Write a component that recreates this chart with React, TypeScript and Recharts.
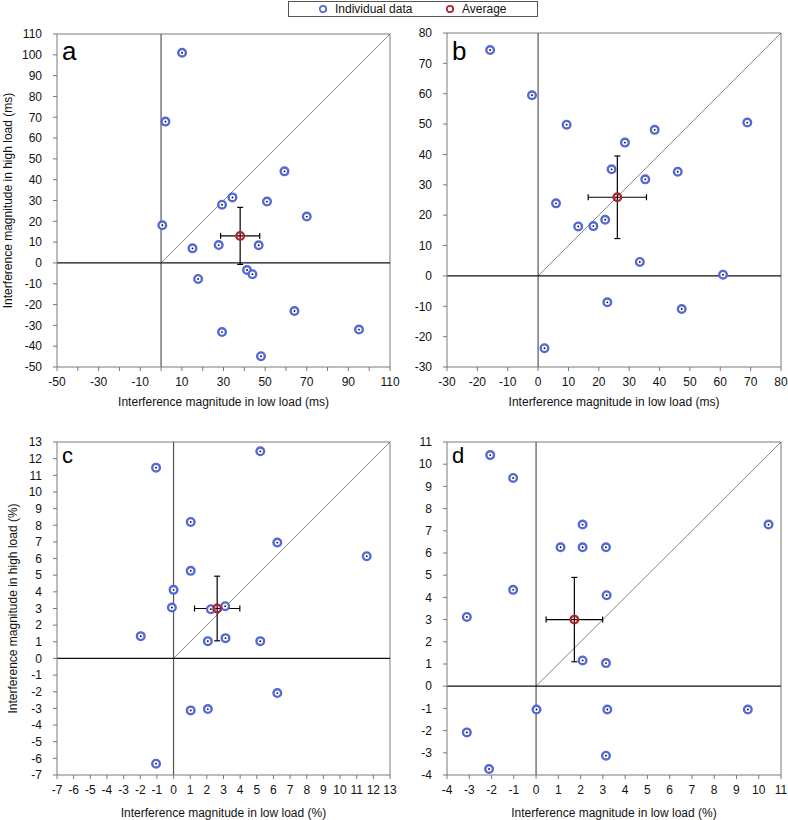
import React from 'react';
import {
  ScatterChart,
  Scatter,
  XAxis,
  YAxis,
  ReferenceLine,
  ErrorBar,
} from 'recharts';

// ---------- Data ----------
// Panel a (ms)
const aLow = [10.1, 2.1, 0.6, 59.3, 34.3, 29.3, 50.9, 70.0, 15.1, 27.7, 46.9, 41.3, 43.9, 17.8, 64.1, 95.1, 29.3, 48.0];
const aHigh = [101, 67.9, 18.1, 44.0, 31.5, 28.0, 29.5, 22.3, 7.0, 8.6, 8.5, -3.4, -5.4, -7.7, -23.1, -32.0, -33.2, -44.8];
const aAvg = { x: 38.0, y: 13.0, ex: 9.4, ey: 13.7 };

// Panel b (ms)
const bLow = [-15.8, -2.0, 9.4, 28.6, 38.4, 68.9, 24.2, 35.3, 46.0, 5.9, 13.2, 18.2, 22.1, 33.5, 60.9, 22.8, 47.3, 2.1];
const bHigh = [74.4, 59.5, 49.8, 43.9, 48.1, 50.5, 35.1, 31.8, 34.3, 23.9, 16.3, 16.4, 18.5, 4.6, 0.4, -8.7, -10.9, -23.8];
const bAvg = { x: 26.1, y: 25.9, ex: 9.6, ey: 13.6 };

// Panel c (%)
const cLow = [5.21, -1.05, 1.03, 6.23, 11.6, 1.03, 0.0, -0.1, 2.24, 3.1, -1.97, 2.06, 3.12, 5.21, 6.23, 1.03, 2.06, -1.05];
const cHigh = [12.44, 11.46, 8.2, 6.96, 6.14, 5.26, 4.12, 3.06, 2.96, 3.14, 1.34, 1.04, 1.22, 1.04, -2.08, -3.12, -3.04, -6.32];
const cAvg = { x: 2.62, y: 3.0, ex: 1.36, ey: 1.94 };

// Panel d (%)
const dLow = [-2.06, -1.03, 2.09, 10.44, 1.1, 2.09, 3.14, -1.03, 3.17, -3.11, 2.09, 3.14, 0.02, 3.2, 9.51, -3.11, 3.14, -2.11];
const dHigh = [10.41, 9.38, 7.28, 7.28, 6.26, 6.26, 6.26, 4.34, 4.1, 3.12, 1.16, 1.04, -1.05, -1.05, -1.05, -2.08, -3.13, -3.73];
const dAvg = { x: 1.72, y: 3.0, ex: 1.27, ey: 1.9 };

// Tick values
const aTicks = [-50, -40, -30, -20, -10, 0, 10, 20, 30, 40, 50, 60, 70, 80, 90, 100, 110];
const aXLabels = [-50, -30, -10, 10, 30, 50, 70, 90, 110];
const bTicks = [-30, -20, -10, 0, 10, 20, 30, 40, 50, 60, 70, 80];
const cTicks = [-7, -6, -5, -4, -3, -2, -1, 0, 1, 2, 3, 4, 5, 6, 7, 8, 9, 10, 11, 12, 13];
const dTicks = [-4, -3, -2, -1, 0, 1, 2, 3, 4, 5, 6, 7, 8, 9, 10, 11];

const FONT = '"Liberation Sans", Arial, Helvetica, sans-serif';
const BLUE = '#5468d8';
const RED = '#b3202c';
const FRAME = '#7a7a7a';

const zip = (xs: number[], ys: number[]) => xs.map((x, i) => ({ x, y: ys[i] }));

const IndividualShape = (props: any) => {
  const { cx, cy } = props;
  if (cx == null || cy == null) return null;
  return (
    <g>
      <circle cx={cx} cy={cy} r={3.8} fill="#fff" stroke={BLUE} strokeWidth={2.4} />
      <circle cx={cx} cy={cy} r={0.9} fill="#000" />
    </g>
  );
};

const AverageShape = (props: any) => {
  const { cx, cy } = props;
  if (cx == null || cy == null) return null;
  return <circle cx={cx} cy={cy} r={3.8} fill="none" stroke={RED} strokeWidth={2.3} />;
};

type PanelProps = {
  letter: string;
  left: number;
  top: number;
  low: number[];
  high: number[];
  avg: { x: number; y: number; ex: number; ey: number };
  xDomain: [number, number];
  yDomain: [number, number];
  xTicks: number[];
  yTicks: number[];
  xLabelSet?: number[];
  marginTop: number;
  marginRight: number;
  yAxisWidth: number;
  xAxisHeight: number;
  xTitle: string;
  yTitle?: string;
  yTitleOffset?: number;
  xTitleOffset: number;
  letterTop: number;
  letterSize: number;
};

const Panel = (p: PanelProps) => {
  const data = zip(p.low, p.high);
  const avgData = [p.avg];
  const [, x1] = p.xDomain;
  const [, y1] = p.yDomain;
  const tickStyle = { fontSize: 12, fill: '#111', fontFamily: FONT };
  return (
    <div style={{ position: 'absolute', left: p.left, top: p.top }}>
      <ScatterChart
        width={394}
        height={410}
        margin={{ top: p.marginTop, right: p.marginRight, left: 0, bottom: 0 }}
      >
        <XAxis
          type="number"
          dataKey="x"
          domain={p.xDomain}
          ticks={p.xTicks}
          interval={0}
          allowDataOverflow
          height={p.xAxisHeight}
          tickSize={4}
          tickMargin={6}
          stroke={FRAME}
          tick={tickStyle}
          tickFormatter={(v: number) => (p.xLabelSet && !p.xLabelSet.includes(v) ? '' : String(v))}
          label={{
            value: p.xTitle,
            position: 'insideBottom',
            offset: p.xTitleOffset,
            style: { fontSize: 12, fill: '#111', fontFamily: FONT },
          }}
        />
        <YAxis
          type="number"
          dataKey="y"
          domain={p.yDomain}
          ticks={p.yTicks}
          interval={0}
          allowDataOverflow
          width={p.yAxisWidth}
          tickSize={4}
          tickMargin={11}
          stroke={FRAME}
          tick={tickStyle}
          label={
            p.yTitle
              ? {
                  value: p.yTitle,
                  angle: -90,
                  position: 'insideLeft',
                  offset: p.yTitleOffset,
                  style: { fontSize: 12, fill: '#111', fontFamily: FONT, textAnchor: 'middle' },
                }
              : undefined
          }
        />
        <ReferenceLine y={y1} stroke={FRAME} strokeWidth={1} />
        <ReferenceLine x={x1} stroke={FRAME} strokeWidth={1} />
        <ReferenceLine
          segment={[
            { x: 0, y: 0 },
            { x: Math.min(x1, y1), y: Math.min(x1, y1) },
          ]}
          stroke="#555"
          strokeWidth={0.7}
        />
        <ReferenceLine x={0} stroke="#555" strokeWidth={1.2} />
        <ReferenceLine y={0} stroke="#111" strokeWidth={1.2} />
        <Scatter
          name="Individual data"
          data={data}
          isAnimationActive={false}
          shape={IndividualShape}
        />
        <Scatter name="Average" data={avgData} isAnimationActive={false} shape={AverageShape}>
          <ErrorBar dataKey="ex" direction="x" width={3} stroke="#000" strokeWidth={1.2} />
          <ErrorBar dataKey="ey" direction="y" width={3} stroke="#000" strokeWidth={1.2} />
        </Scatter>
      </ScatterChart>
      <div
        style={{
          position: 'absolute',
          left: p.yAxisWidth + 5,
          top: p.marginTop + p.letterTop,
          fontFamily: FONT,
          fontSize: p.letterSize,
          lineHeight: `${p.letterSize}px`,
          color: '#000',
        }}
      >
        {p.letter}
      </div>
    </div>
  );
};

const Legend = () => (
  <div
    style={{
      position: 'absolute',
      left: 288,
      top: 1,
      width: 248,
      height: 14,
      border: '1px solid #555',
      background: '#fff',
      fontFamily: FONT,
      fontSize: 12,
      lineHeight: '14px',
      color: '#111',
      zIndex: 5,
    }}
  >
    <svg width={10} height={10} style={{ position: 'absolute', left: 29, top: 2 }}>
      <circle cx={5} cy={5} r={3.2} fill="#fff" stroke={BLUE} strokeWidth={1.8} />
    </svg>
    <span style={{ position: 'absolute', left: 46, top: 0 }}>Individual data</span>
    <svg width={10} height={10} style={{ position: 'absolute', left: 156, top: 2 }}>
      <circle cx={5} cy={5} r={3.2} fill="#fff" stroke={RED} strokeWidth={1.8} />
    </svg>
    <span style={{ position: 'absolute', left: 173, top: 0 }}>Average</span>
  </div>
);

export default function App() {
  return (
    <div
      style={{
        position: 'absolute',
        left: 0,
        top: 0,
        width: 788,
        height: 820,
        background: '#fff',
        overflow: 'hidden',
      }}
    >
      <style>{'svg.recharts-surface{overflow:visible}'}</style>
      <Panel
        letter="a"
        left={0}
        top={0}
        low={aLow}
        high={aHigh}
        avg={aAvg}
        xDomain={[-50, 110]}
        yDomain={[-50, 110]}
        xTicks={aTicks}
        yTicks={aTicks}
        xLabelSet={aXLabels}
        marginTop={34}
        marginRight={4}
        yAxisWidth={57}
        xAxisHeight={43}
        xTitle="Interference magnitude in low load (ms)"
        yTitle="Interference magnitude in high load (ms)"
        yTitleOffset={8}
        xTitleOffset={4}
        letterTop={4}
        letterSize={26}
      />
      <Panel
        letter="b"
        left={394}
        top={0}
        low={bLow}
        high={bHigh}
        avg={bAvg}
        xDomain={[-30, 80]}
        yDomain={[-30, 80]}
        xTicks={bTicks}
        yTicks={bTicks}
        marginTop={33}
        marginRight={7}
        yAxisWidth={53}
        xAxisHeight={43}
        xTitle="Interference magnitude in low load (ms)"
        xTitleOffset={4}
        letterTop={5}
        letterSize={26}
      />
      <Panel
        letter="c"
        left={0}
        top={410}
        low={cLow}
        high={cHigh}
        avg={cAvg}
        xDomain={[-7, 13]}
        yDomain={[-7, 13]}
        xTicks={cTicks}
        yTicks={cTicks}
        marginTop={32}
        marginRight={4}
        yAxisWidth={57}
        xAxisHeight={45}
        xTitle="Interference magnitude in low load (%)"
        yTitle="Interference magnitude in high load (%)"
        yTitleOffset={13}
        xTitleOffset={3}
        letterTop={3}
        letterSize={22}
      />
      <Panel
        letter="d"
        left={394}
        top={410}
        low={dLow}
        high={dHigh}
        avg={dAvg}
        xDomain={[-4, 11]}
        yDomain={[-4, 11]}
        xTicks={dTicks}
        yTicks={dTicks}
        marginTop={32}
        marginRight={7}
        yAxisWidth={53}
        xAxisHeight={45}
        xTitle="Interference magnitude in low load (%)"
        xTitleOffset={3}
        letterTop={3}
        letterSize={22}
      />
      <Legend />
    </div>
  );
}
